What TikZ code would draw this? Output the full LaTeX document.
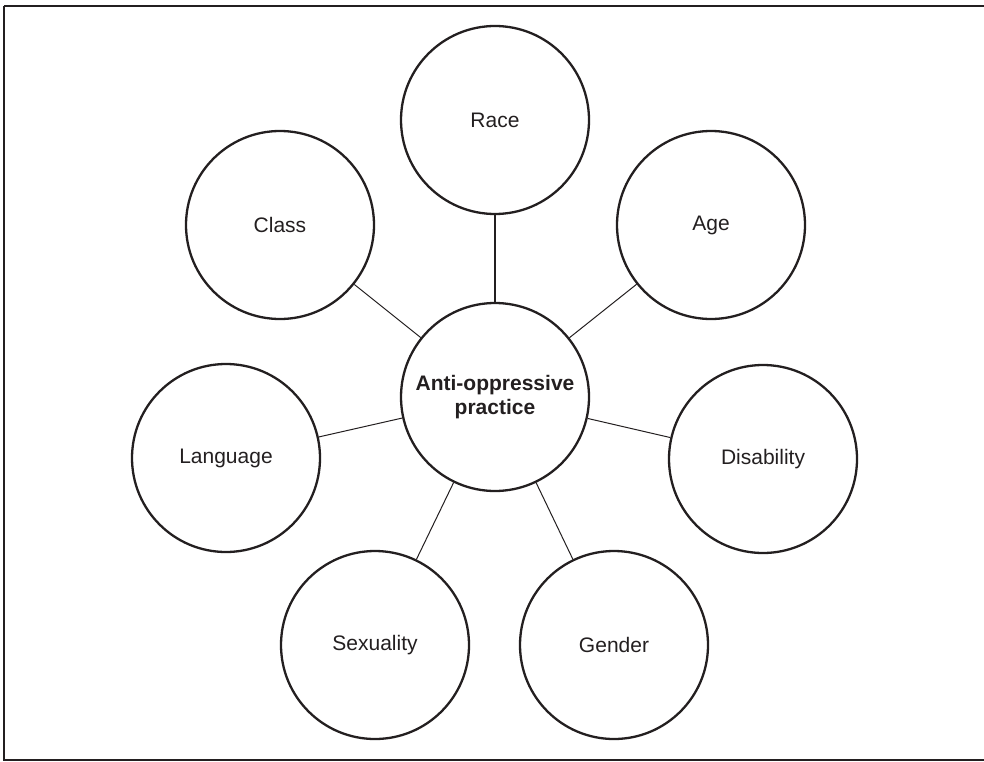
\documentclass[tikz,border=0pt]{standalone}
\usepackage{fontspec}
\setmainfont{Liberation Sans}
\definecolor{ink}{HTML}{231F20}
\begin{document}
\begin{tikzpicture}[x=1pt,y=-1pt,
  topic/.style={circle,draw=ink,line width=2.3pt,minimum size=188pt,inner sep=0pt,
    text=ink,font=\fontsize{21}{24.5}\selectfont,align=center},
  hub/.style={topic,font=\fontsize{21}{24.5}\selectfont\bfseries},
  link/.style={draw=ink,line width=1pt},
  biglink/.style={draw=ink,line width=1.6pt}]
\useasboundingbox (0,0) rectangle (984,762);
\draw[ink,line width=2.3pt] (4,6) -- (995,6) (4,6) -- (4,760) -- (995,760);
\node[hub] (c) at (495,397) {Anti-oppressive\\practice};
\node[topic] (race) at (495,120) {Race};
\node[topic] (class) at (280,225) {Class};
\node[topic] (age) at (711,225) {Age};
\node[topic] (lang) at (226,458) {Language};
\node[topic] (dis) at (763,459) {Disability};
\node[topic] (sex) at (375,645) {Sexuality};
\node[topic] (gen) at (614,645) {Gender};
\draw[biglink] (race) -- (c);
\draw[link] (class) -- (c);
\draw[link] (age) -- (c);
\draw[link] (lang) -- (c);
\draw[link] (dis) -- (c);
\draw[link] (sex) -- (c);
\draw[link] (gen) -- (c);
\end{tikzpicture}
\end{document}
